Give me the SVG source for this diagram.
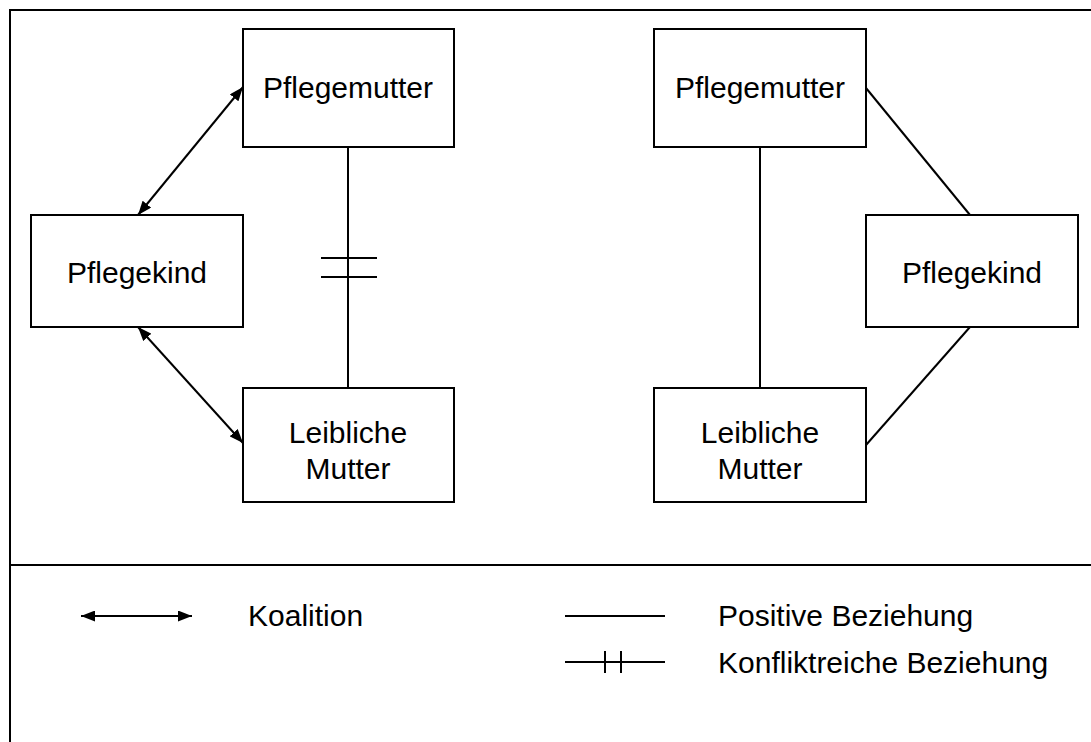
<svg xmlns="http://www.w3.org/2000/svg" width="1091" height="742" viewBox="0 0 1091 742">
<style>
.box{fill:#fff;stroke:#000;stroke-width:2}
.ln{stroke:#000;stroke-width:2;fill:none}
.t{font-family:"Liberation Sans",Arial,sans-serif;font-size:30px;fill:#000;text-anchor:middle}
.lt{font-family:"Liberation Sans",Arial,sans-serif;font-size:30px;fill:#000}
</style>
<defs>
<marker id="ah" viewBox="0 0 14 11" refX="14" refY="5.5" markerWidth="14" markerHeight="11" markerUnits="userSpaceOnUse" orient="auto-start-reverse">
<path d="M0,0 L14,5.5 L0,11 Z" fill="#000"/>
</marker>
</defs>
<rect x="0" y="0" width="1091" height="742" fill="#fff"/>
<path d="M10,760 V10 H1100" class="ln"/>
<line x1="10" y1="565" x2="1100" y2="565" class="ln"/>
<g id="connectors">
<line x1="243" y1="87" x2="138" y2="215" class="ln" marker-start="url(#ah)" marker-end="url(#ah)"/>
<line x1="138" y1="327" x2="243" y2="443" class="ln" marker-start="url(#ah)" marker-end="url(#ah)"/>
<line x1="348" y1="147" x2="348" y2="388" class="ln"/>
<line x1="321" y1="258" x2="377" y2="258" class="ln"/>
<line x1="321" y1="277" x2="377" y2="277" class="ln"/>
<line x1="760" y1="147" x2="760" y2="388" class="ln"/>
<line x1="866" y1="88" x2="970" y2="215" class="ln"/>
<line x1="970" y1="327" x2="866" y2="445" class="ln"/>
</g>
<g id="pflegemutter-l"><rect x="243" y="29" width="211" height="118" class="box"/><text x="348" y="98" class="t">Pflegemutter</text></g>
<g id="pflegekind-l"><rect x="31" y="215" width="212" height="112" class="box"/><text x="137" y="283" class="t">Pflegekind</text></g>
<g id="mutter-l"><rect x="243" y="388" width="211" height="114" class="box"/><text x="348" y="443" class="t">Leibliche</text><text x="348" y="479" class="t">Mutter</text></g>
<g id="pflegemutter-r"><rect x="654" y="29" width="212" height="118" class="box"/><text x="760" y="98" class="t">Pflegemutter</text></g>
<g id="pflegekind-r"><rect x="866" y="215" width="212" height="112" class="box"/><text x="972" y="283" class="t">Pflegekind</text></g>
<g id="mutter-r"><rect x="654" y="388" width="212" height="114" class="box"/><text x="760" y="443" class="t">Leibliche</text><text x="760" y="479" class="t">Mutter</text></g>
<g id="legend">
<line x1="81" y1="616" x2="192" y2="616" class="ln" marker-start="url(#ah)" marker-end="url(#ah)"/>
<text x="248" y="626" class="lt">Koalition</text>
<line x1="565" y1="616" x2="665" y2="616" class="ln"/>
<text x="718" y="626" class="lt">Positive Beziehung</text>
<line x1="565" y1="662" x2="665" y2="662" class="ln"/>
<line x1="605" y1="651" x2="605" y2="673" class="ln"/>
<line x1="621" y1="651" x2="621" y2="673" class="ln"/>
<text x="718" y="673" class="lt">Konfliktreiche Beziehung</text>
</g>
</svg>
